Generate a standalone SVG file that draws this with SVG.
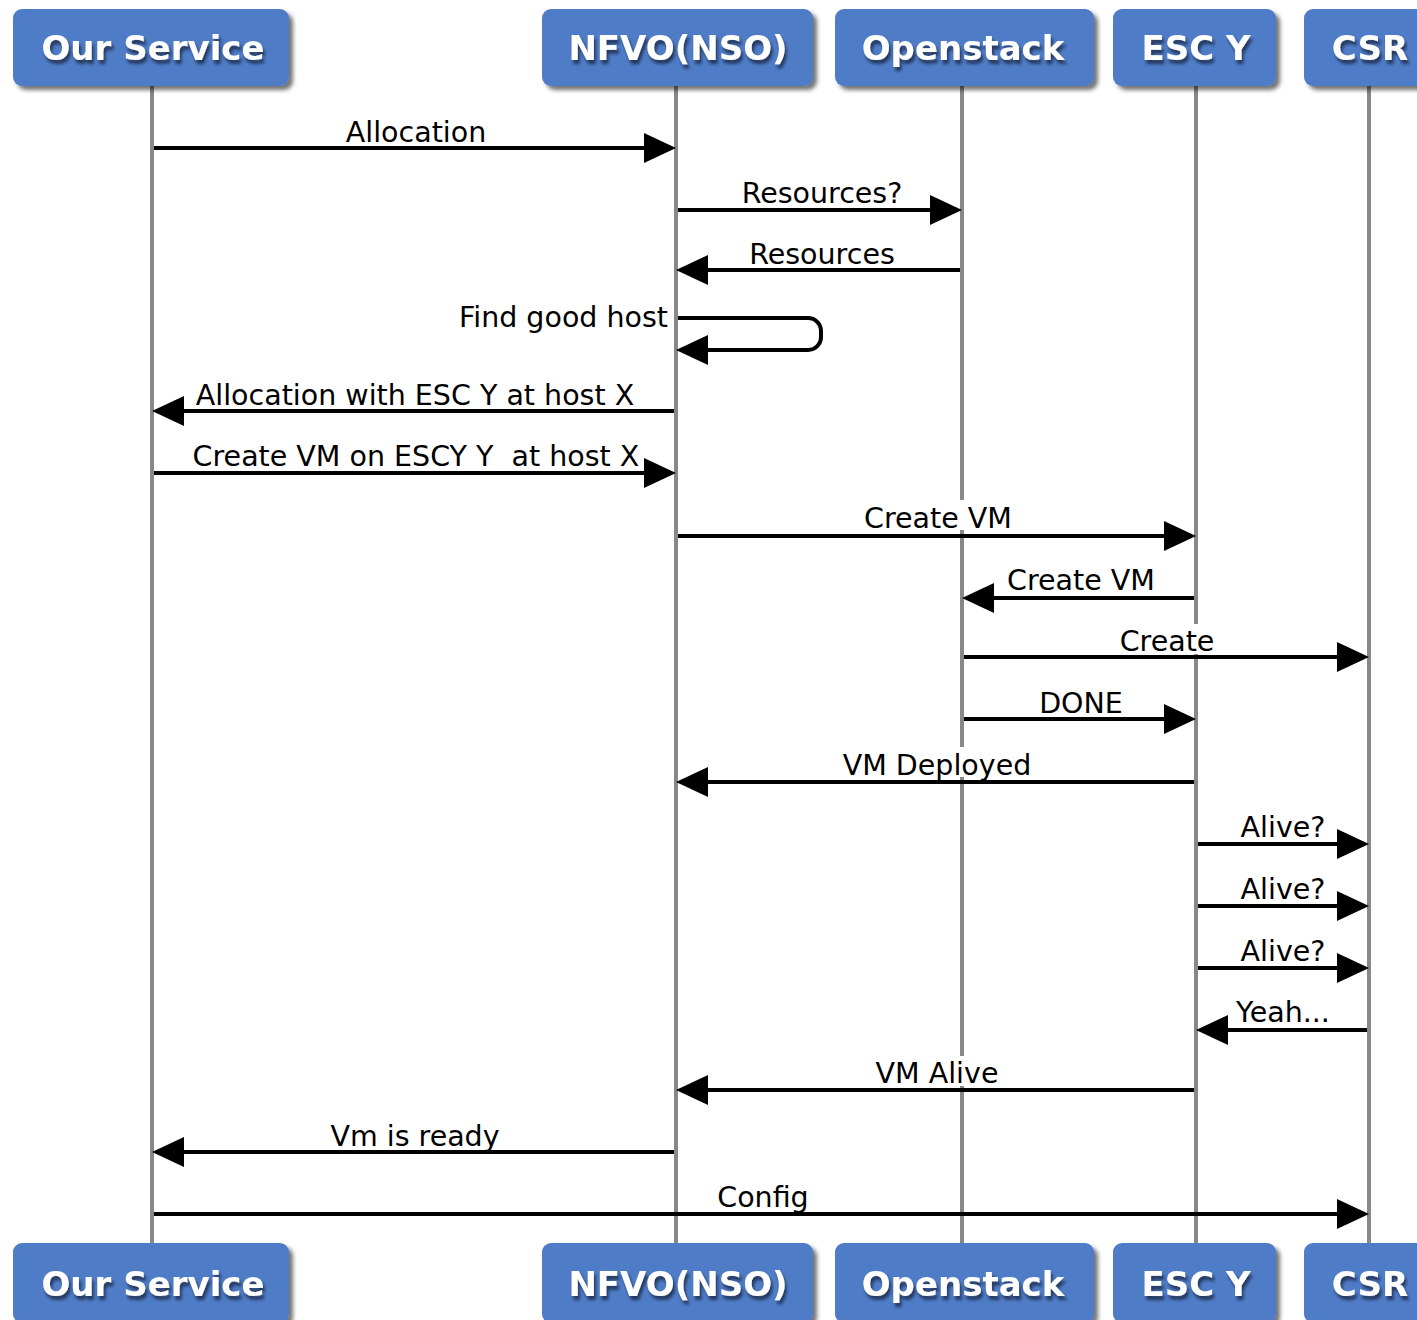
<svg xmlns="http://www.w3.org/2000/svg" width="1417" height="1320" viewBox="0 0 1417 1320">
<style>
.box{fill:#4f7bc6;filter:url(#sh)}
.ht{font-family:"DejaVu Sans",sans-serif;font-weight:bold;font-size:34px;fill:#fff;text-anchor:middle;filter:url(#tsh)}
.life{stroke:#888;stroke-width:4;fill:none}
.msg{stroke:#000;stroke-width:4;fill:none;marker-end:url(#ah)}
.lb{font-family:"DejaVu Sans",sans-serif;font-size:28.5px;fill:#000;text-anchor:middle}
.bg{fill:#fff}
</style>
<defs>
<filter id="sh" x="-10%" y="-10%" width="130%" height="140%"><feDropShadow dx="4" dy="4" stdDeviation="2" flood-color="#000" flood-opacity="0.55"/></filter>
<filter id="tsh" x="-10%" y="-20%" width="130%" height="160%"><feDropShadow dx="2" dy="4" stdDeviation="1.5" flood-color="#0d1a36" flood-opacity="0.7"/></filter>
<marker id="ah" markerUnits="userSpaceOnUse" markerWidth="34" markerHeight="32" refX="16" refY="15" orient="auto" viewBox="0 0 34 32"><path d="M0,0 L32,15 L0,30 z" fill="#000"/></marker>
</defs>
<g id="lifelines">
<line class="life" x1="152" y1="86" x2="152" y2="1243"/>
<line class="life" x1="676" y1="86" x2="676" y2="1243"/>
<line class="life" x1="962" y1="86" x2="962" y2="1243"/>
<line class="life" x1="1196" y1="86" x2="1196" y2="1243"/>
<line class="life" x1="1369" y1="86" x2="1369" y2="1243"/>
</g>
<g id="node-our-service"><rect class="box" x="13" y="9" width="276" height="77" rx="9"/><text class="ht" x="153" y="60">Our Service</text></g>
<g id="node-nfvo"><rect class="box" x="542" y="9" width="271" height="77" rx="9"/><text class="ht" x="678" y="60">NFVO(NSO)</text></g>
<g id="node-openstack"><rect class="box" x="835" y="9" width="259" height="77" rx="9"/><text class="ht" x="963" y="60">Openstack</text></g>
<g id="node-esc"><rect class="box" x="1113" y="9" width="163" height="77" rx="9"/><text class="ht" x="1196" y="60">ESC Y</text></g>
<g id="node-csr"><rect class="box" x="1304" y="9" width="140" height="77" rx="9"/><text class="ht" x="1370" y="60">CSR</text></g>
<g id="node-our-service-b"><rect class="box" x="13" y="1243" width="276" height="80" rx="9"/><text class="ht" x="153" y="1296">Our Service</text></g>
<g id="node-nfvo-b"><rect class="box" x="542" y="1243" width="271" height="80" rx="9"/><text class="ht" x="678" y="1296">NFVO(NSO)</text></g>
<g id="node-openstack-b"><rect class="box" x="835" y="1243" width="259" height="80" rx="9"/><text class="ht" x="963" y="1296">Openstack</text></g>
<g id="node-esc-b"><rect class="box" x="1113" y="1243" width="163" height="80" rx="9"/><text class="ht" x="1196" y="1296">ESC Y</text></g>
<g id="node-csr-b"><rect class="box" x="1304" y="1243" width="140" height="80" rx="9"/><text class="ht" x="1370" y="1296">CSR</text></g>
<g id="connectors">
<rect class="bg" x="858" y="500" width="160" height="30"/>
<rect class="bg" x="1114" y="624" width="106" height="30"/>
<rect class="bg" x="836" y="747" width="202" height="30"/>
<rect class="bg" x="868" y="1056" width="138" height="30"/>
<line class="msg" x1="154" y1="148" x2="660" y2="148"/>
<text class="lb" x="416" y="142">Allocation</text>
<line class="msg" x1="678" y1="210" x2="946" y2="210"/>
<text class="lb" x="822" y="203">Resources?</text>
<line class="msg" x1="960" y1="270" x2="692" y2="270"/>
<text class="lb" x="822" y="264">Resources</text>
<path class="msg" d="M678,318 H808 a13,13 0 0 1 13,13 v6 a13,13 0 0 1 -13,13 H692"/>
<text class="lb" x="668" y="327" style="text-anchor:end">Find good host</text>
<line class="msg" x1="674" y1="411" x2="168" y2="411"/>
<text class="lb" x="415" y="405">Allocation with ESC Y at host X</text>
<line class="msg" x1="154" y1="473" x2="660" y2="473"/>
<text class="lb" x="416" y="466" xml:space="preserve">Create VM on ESCY Y  at host X</text>
<line class="msg" x1="678" y1="536" x2="1180" y2="536"/>
<text class="lb" x="938" y="528">Create VM</text>
<line class="msg" x1="1194" y1="598" x2="978" y2="598"/>
<text class="lb" x="1081" y="590">Create VM</text>
<line class="msg" x1="964" y1="657" x2="1353" y2="657"/>
<text class="lb" x="1167" y="651">Create</text>
<line class="msg" x1="964" y1="719" x2="1180" y2="719"/>
<text class="lb" x="1081" y="713">DONE</text>
<line class="msg" x1="1194" y1="782" x2="692" y2="782"/>
<text class="lb" x="937" y="775">VM Deployed</text>
<line class="msg" x1="1198" y1="844" x2="1353" y2="844"/>
<text class="lb" x="1283" y="837">Alive?</text>
<line class="msg" x1="1198" y1="906" x2="1353" y2="906"/>
<text class="lb" x="1283" y="899">Alive?</text>
<line class="msg" x1="1198" y1="968" x2="1353" y2="968"/>
<text class="lb" x="1283" y="961">Alive?</text>
<line class="msg" x1="1367" y1="1030" x2="1212" y2="1030"/>
<text class="lb" x="1283" y="1022">Yeah...</text>
<line class="msg" x1="1194" y1="1090" x2="692" y2="1090"/>
<text class="lb" x="937" y="1083">VM Alive</text>
<line class="msg" x1="674" y1="1152" x2="168" y2="1152"/>
<text class="lb" x="415" y="1146">Vm is ready</text>
<line class="msg" x1="154" y1="1214" x2="1353" y2="1214"/>
<text class="lb" x="763" y="1207">Config</text>
</g>
</svg>
